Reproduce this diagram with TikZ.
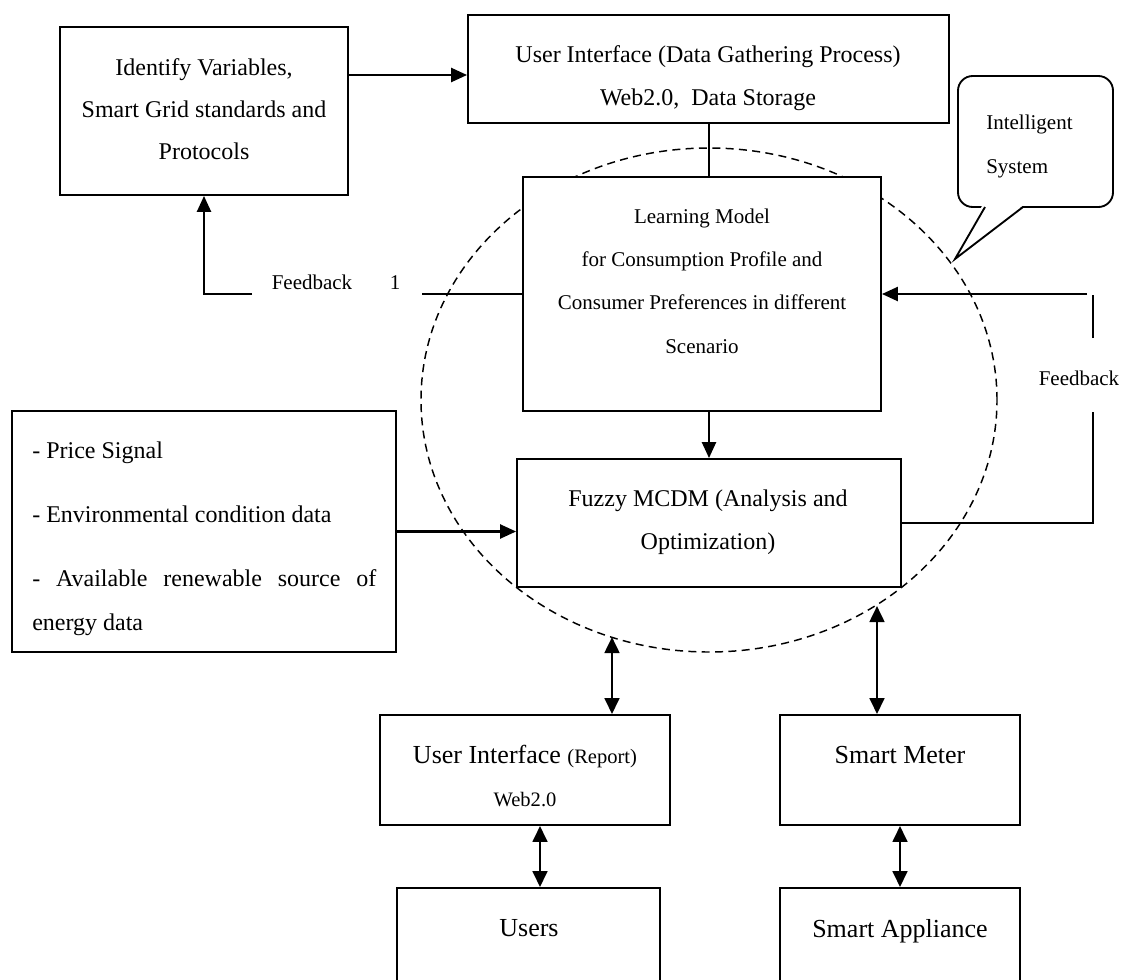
\documentclass[tikz,border=0pt]{standalone}
\usepackage{fontspec}
\setmainfont{Liberation Serif}
\usetikzlibrary{arrows.meta,fit,calc}

\begin{document}
\begin{tikzpicture}[x=0.75pt,y=-0.75pt,
  box/.style={draw,fill=white,line width=1.4pt,inner sep=0pt},
  lbl/.style={inner sep=0pt,align=center},
  bigfont/.style={font=\fontsize{18}{32.25}\selectfont},
  midfont/.style={font=\fontsize{15.75}{32.5}\selectfont},
  largefont/.style={font=\fontsize{19.5}{24}\selectfont},
  conn/.style={line width=1.5pt},
  arr/.style={line width=1.8pt,-{Triangle[length=12pt,width=10.5pt]}},
  darr/.style={line width=2pt,{Triangle[length=12pt,width=11pt]}-{Triangle[length=12pt,width=11pt]}},
  sysline/.style={line width=1.1pt,dash pattern=on 6pt off 4pt}
]
\clip (0,0) rectangle (1129,979);
\fill[white] (0,0) rectangle (1129,979);

% boundary of the intelligent system
\draw[sysline] (709,400) ellipse [x radius=216pt, y radius=189pt];

% boxes
\node[box,fit={(60,27)(348,195)}] (idv) {};
\node[box,fit={(468,15)(949,123)}] (uidg) {};
\node[box,fit={(523,177)(881,411)}] (learn) {};
\node[box,fit={(517,459)(901,587)}] (fuzzy) {};
\node[box,fit={(12,411)(396,652)}] (inputs) {};
\node[box,fit={(380,715)(670,825)}] (uirep) {};
\node[box,fit={(780,715)(1020,825)}] (meter) {};
\node[box,fit={(397,888)(660,1010)}] (users) {};
\node[box,fit={(780,888)(1020,1010)}] (appl) {};

% speech bubble
\node[box,rounded corners=11pt,fit={(958,76)(1113,207)}] (callout) {};
\fill[white] (983,204) -- (955,259) -- (1025,204) -- cycle;
\draw[line width=1.4pt] (985,207) -- (955,259) -- (1023,207);
\node[lbl,align=left,anchor=west,font=\fontsize{15.75}{33}\selectfont] (calltext) at (986,146) {Intelligent\\System};

% box texts
\node[lbl,font=\fontsize{18}{31.5}\selectfont] (idvtext) at (204,109) {Identify Variables,\\Smart Grid standards and\\Protocols};
\node[lbl,bigfont] (uidgtext) at (708,78) {User Interface (Data Gathering Process)\\Web2.0,\ \ Data Storage};
\node[lbl,midfont] (learntext) at (702,281) {Learning Model\\for Consumption Profile and\\Consumer Preferences in different\\Scenario};
\node[lbl,bigfont] (fuzzytext) at (708,522) {Fuzzy MCDM (Analysis and\\Optimization)};
\node[inner sep=0pt,anchor=north west,text width=258pt,align=justify,
      font={\fontsize{18}{33}\selectfont\tolerance=10000\relax\hyphenpenalty=10000\relax}] (inputstext) at (32,442)
  {- Price Signal\\[15pt]- Environmental condition data\\[15pt]- Available renewable source of energy data};
\node[lbl,anchor=base,largefont] (uireptext) at (525,763) {User Interface {\fontsize{15.4}{18}\selectfont(Report)}};
\node[lbl,anchor=base,font=\fontsize{15.4}{18}\selectfont] (uirepweb) at (525,806) {Web2.0};
\node[lbl,anchor=base,largefont] (metertext) at (900,763) {Smart Meter};
\node[lbl,anchor=base,largefont] (userstext) at (529,936) {Users};
\node[lbl,anchor=base,largefont] (appltext) at (900,937) {Smart Appliance};

% main flow
\draw[arr] (idv.east |- 0,75) -- (uidg.west |- 0,75);
\draw[conn] (uidg.south) -- (uidg.south |- learn.north);
\draw[arr] (fuzzy.north |- learn.south) -- (fuzzy.north);
\draw[arr] (inputs.east) -- (inputs.east -| fuzzy.west);

% feedback 1
\coordinate (fbr) at (422,294);
\coordinate (fbl) at (252,294);
\draw[conn] (learn.west) -- (fbr);
\draw[arr] (fbl) -- (fbl -| idv.south) -- (idv.south);
\node[lbl,anchor=base,midfont] (fblbl) at (312,289) {Feedback};
\node[lbl,anchor=base,midfont] (fbnum) at (395,289) {1};

% feedback loop on the right
\coordinate (fa) at (1093,412);
\coordinate (fb) at (1093,338);
\coordinate (fc) at (1093,295);
\coordinate (fd) at (1087,294);
\draw[conn] (fuzzy.east) -- (fuzzy.east -| fa) -- (fa);
\draw[conn] (fb) -- (fc);
\draw[arr] (fd) -- (learn.east);
\node[lbl,anchor=base,midfont] (fb2lbl) at (1079,385) {Feedback};

% two-way links
\coordinate (uitop) at (612,637);
\coordinate (mtop) at (877,606);
\coordinate (ux) at (540,0);
\draw[darr] (uitop) -- (uitop |- uirep.north);
\draw[darr] (mtop) -- (mtop |- meter.north);
\draw[darr] (uirep.south -| ux) -- (users.north -| ux);
\draw[darr] (meter.south) -- (appl.north);
\end{tikzpicture}
\end{document}
